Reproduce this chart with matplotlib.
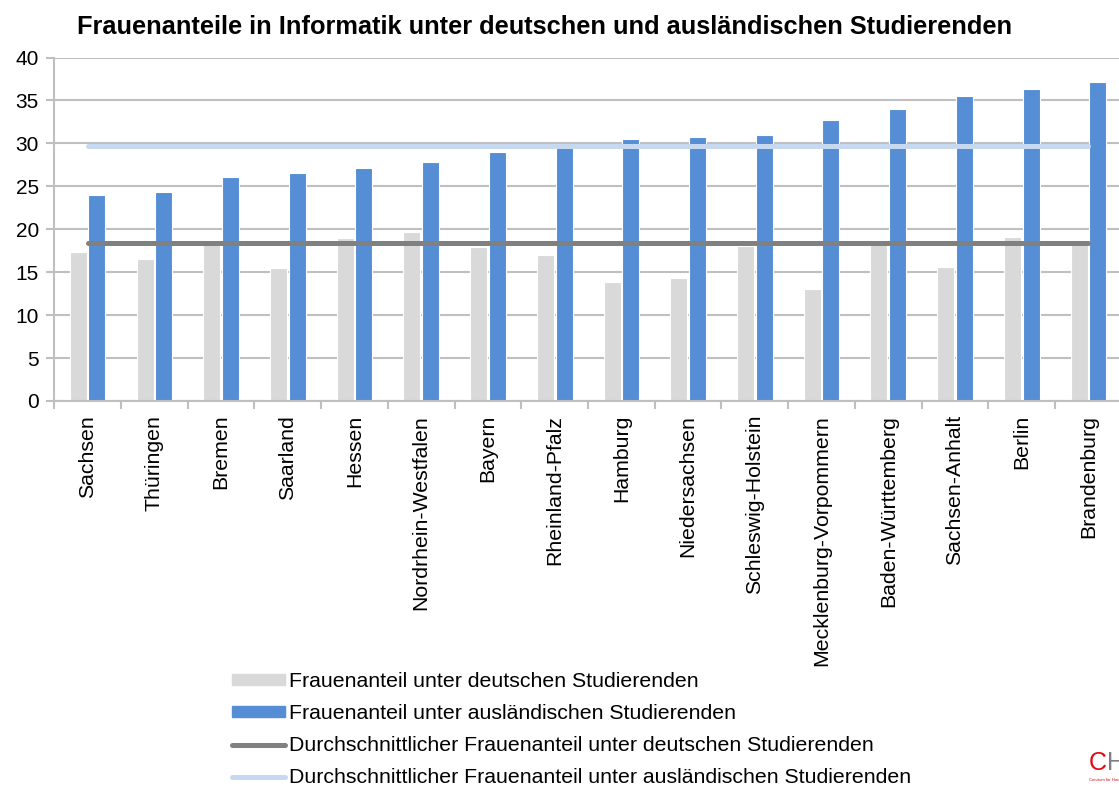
import numpy as np
import matplotlib.pyplot as plt
from matplotlib.patches import Patch
from matplotlib.lines import Line2D

plt.rcParams['font.family'] = ['Liberation Sans', 'DejaVu Sans']

# Bundeslaender, sortiert nach Frauenanteil unter auslaendischen Studierenden
laender = ['Sachsen', 'Thüringen', 'Bremen', 'Saarland', 'Hessen',
           'Nordrhein-Westfalen', 'Bayern', 'Rheinland-Pfalz', 'Hamburg',
           'Niedersachsen', 'Schleswig-Holstein', 'Mecklenburg-Vorpommern',
           'Baden-Württemberg', 'Sachsen-Anhalt', 'Berlin', 'Brandenburg']
deutsche = [17.4, 16.5, 18.7, 15.5, 19.0, 19.7, 17.9, 17.0, 13.9,
            14.3, 18.0, 13.0, 18.3, 15.6, 19.1, 18.6]
auslaender = [24.0, 24.3, 26.1, 26.5, 27.1, 27.8, 29.0, 29.6, 30.5,
              30.7, 31.0, 32.7, 34.0, 35.5, 36.3, 37.1]
avg_deutsche = 18.4
avg_auslaender = 29.7

c_grey = '#D9D9D9'
c_blue = '#558ED5'
c_dark = '#808080'
c_light = '#C6D9F1'
c_grid = '#BFBFBF'

fig = plt.figure(figsize=(11.19, 7.87), dpi=100)
ax = fig.add_axes([0.0485, 0.4905, 0.954, 0.4364])

x = np.arange(len(laender))
w = 0.255
ax.bar(x - 0.14, deutsche, w, color=c_grey, edgecolor='white', linewidth=0.8, zorder=2)
ax.bar(x + 0.14, auslaender, w, color=c_blue, edgecolor='white', linewidth=0.8, zorder=2)
ax.plot([x[0], x[-1]], [avg_deutsche] * 2, color=c_dark, lw=3.6,
        solid_capstyle='round', zorder=3)
ax.plot([x[0], x[-1]], [avg_auslaender] * 2, color=c_light, lw=3.6,
        solid_capstyle='round', zorder=3)

ax.set_xlim(-0.5, len(laender) - 0.5)
ax.set_ylim(0, 40)
ax.set_yticks(range(0, 41, 5))
ax.yaxis.grid(True, color=c_grid, lw=1.5, zorder=0)
ax.set_axisbelow(True)

ax.set_xticks(x)
ax.set_xticklabels(laender, rotation=90, fontsize=15.3)
ax.set_xticks(np.arange(-0.5, len(laender)), minor=True)
ax.tick_params(axis='x', which='major', length=0, pad=10)
ax.tick_params(axis='x', which='minor', length=6, color=c_grid, width=1.5)
ax.tick_params(axis='y', length=6, color=c_grid, width=1.5, labelsize=15, pad=5)

for s in ['top', 'right']:
    ax.spines[s].set_visible(False)
for s in ['left', 'bottom']:
    ax.spines[s].set_color(c_grid)
    ax.spines[s].set_linewidth(1.5)

fig.text(0.487, 0.966, 'Frauenanteile in Informatik unter deutschen und ausländischen Studierenden',
         ha='center', va='center', fontsize=18.3, fontweight='bold')

handles = [Patch(color=c_grey), Patch(color=c_blue),
           Line2D([], [], color=c_dark, lw=3.6, solid_capstyle='round'),
           Line2D([], [], color=c_light, lw=3.6, solid_capstyle='round')]
labels = ['Frauenanteil unter deutschen Studierenden',
          'Frauenanteil unter ausländischen Studierenden',
          'Durchschnittlicher Frauenanteil unter deutschen Studierenden',
          'Durchschnittlicher Frauenanteil unter ausländischen Studierenden']
fig.legend(handles, labels, loc='upper left', bbox_to_anchor=(0.2, 0.157),
           frameon=False, fontsize=15.3, handlelength=2.5, handleheight=0.45,
           handletextpad=0.15, labelspacing=0.62, borderaxespad=0)

# CHE Logo (angeschnitten am rechten Rand)
fig.text(0.973, 0.022, 'C', color='#E30613', fontsize=18, ha='left', va='baseline')
fig.text(0.9895, 0.022, 'H', color='#808080', fontsize=18, ha='left', va='baseline')
fig.text(0.973, 0.008, 'Centrum für Hochschulentwicklung', color='#E30613', fontsize=3,
         ha='left', va='baseline')

fig.savefig('out.png', dpi=100)
